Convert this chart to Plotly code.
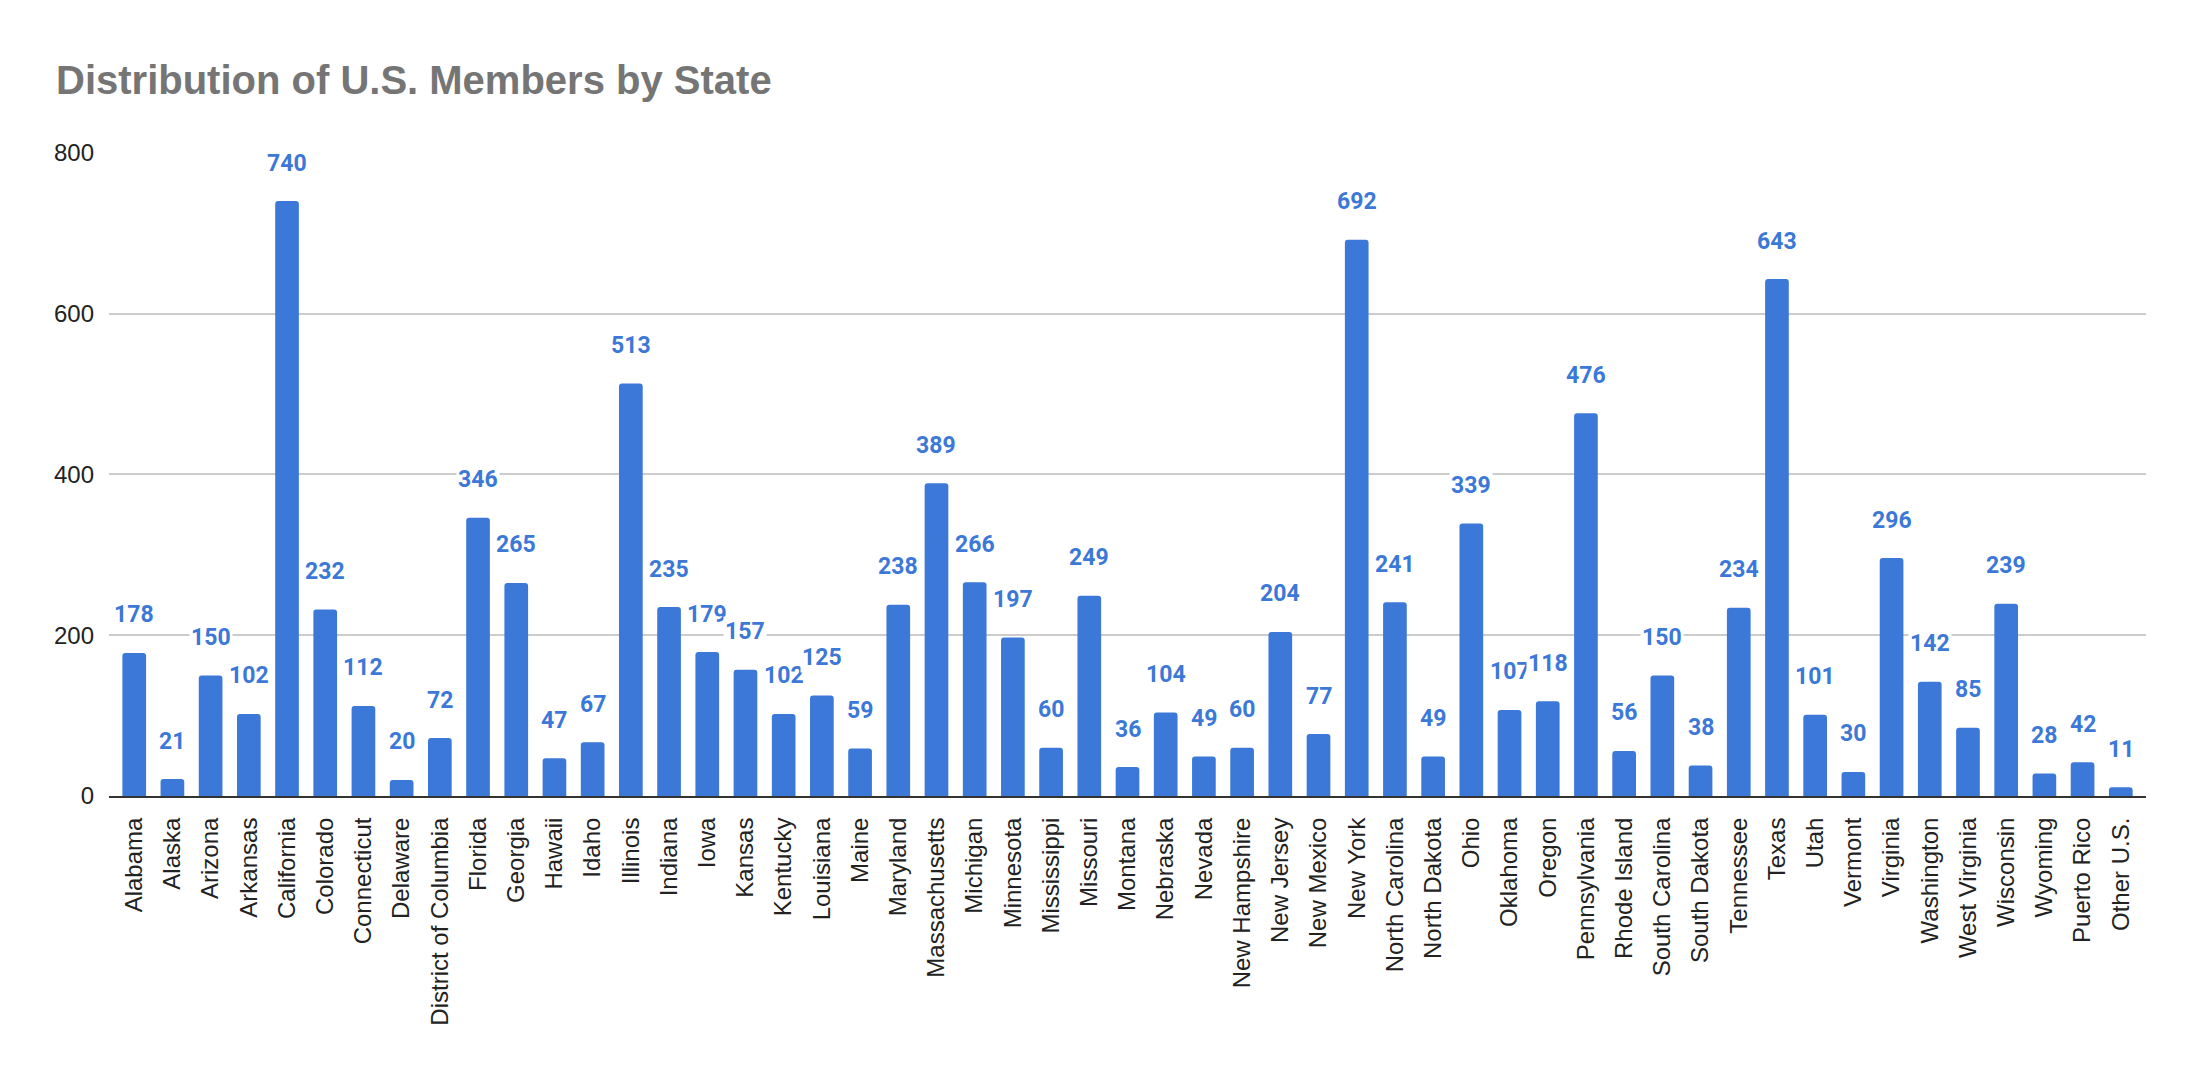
import plotly.graph_objects as go

title_text = "Distribution of U.S. Members by State"

states = [
    "Alabama", "Alaska", "Arizona", "Arkansas", "California", "Colorado",
    "Connecticut", "Delaware", "District of Columbia", "Florida", "Georgia",
    "Hawaii", "Idaho", "Illinois", "Indiana", "Iowa", "Kansas", "Kentucky",
    "Louisiana", "Maine", "Maryland", "Massachusetts", "Michigan", "Minnesota",
    "Mississippi", "Missouri", "Montana", "Nebraska", "Nevada", "New Hampshire",
    "New Jersey", "New Mexico", "New York", "North Carolina", "North Dakota",
    "Ohio", "Oklahoma", "Oregon", "Pennsylvania", "Rhode Island",
    "South Carolina", "South Dakota", "Tennessee", "Texas", "Utah", "Vermont",
    "Virginia", "Washington", "West Virginia", "Wisconsin", "Wyoming",
    "Puerto Rico", "Other U.S.",
]

members = [
    178, 21, 150, 102, 740, 232,
    112, 20, 72, 346, 265,
    47, 67, 513, 235, 179, 157, 102,
    125, 59, 238, 389, 266, 197,
    60, 249, 36, 104, 49, 60,
    204, 77, 692, 241, 49,
    339, 107, 118, 476, 56,
    150, 38, 234, 643, 101, 30,
    296, 142, 85, 239, 28,
    42, 11,
]

y_ticks = [0, 200, 400, 600, 800]

BAR_COLOR = "#3c78d8"

fig = go.Figure()
fig.add_trace(go.Bar(
    x=states,
    y=members,
    marker=dict(color=BAR_COLOR, line=dict(width=0)),
    hoverinfo="x+y",
))

for s, v in zip(states, members):
    fig.add_annotation(
        x=s, y=v, xref="x", yref="y",
        text=str(v),
        showarrow=False,
        yanchor="middle",
        yshift=38,
        font=dict(family="Roboto", size=23, color=BAR_COLOR, weight="bold"),
        bgcolor="white",
        borderpad=1,
    )

fig.update_layout(
    width=2202,
    height=1086,
    margin=dict(l=109, r=56, t=152, b=290),
    paper_bgcolor="white",
    plot_bgcolor="white",
    bargap=0.38,
    barcornerradius=3,
    showlegend=False,
    title=dict(
        text=title_text,
        x=56 / 2202, xanchor="left", xref="container",
        y=1 - 80 / 1086, yanchor="middle", yref="container",
        font=dict(family="Liberation Sans, Arial", size=40, color="#757575", weight="bold"),
    ),
    xaxis=dict(
        type="category",
        range=[-0.66, len(states) - 1 + 0.66],
        tickangle=-90,
        tickfont=dict(family="Liberation Sans, Arial", size=24, color="#222222"),
        showgrid=False,
        showline=True,
        linecolor="#333333",
        linewidth=2,
        ticks="",
        ticklabelstandoff=10,
        fixedrange=True,
    ),
    yaxis=dict(
        range=[0, 801],
        tickvals=y_ticks,
        ticktext=[str(t) for t in y_ticks],
        tickfont=dict(family="Liberation Sans, Arial", size=24, color="#222222"),
        showgrid=True,
        gridcolor="#cccccc",
        gridwidth=1.5,
        zeroline=False,
        showline=False,
        ticks="",
        ticklabelstandoff=14,
        fixedrange=True,
    ),
)

fig.write_html("out.html")
